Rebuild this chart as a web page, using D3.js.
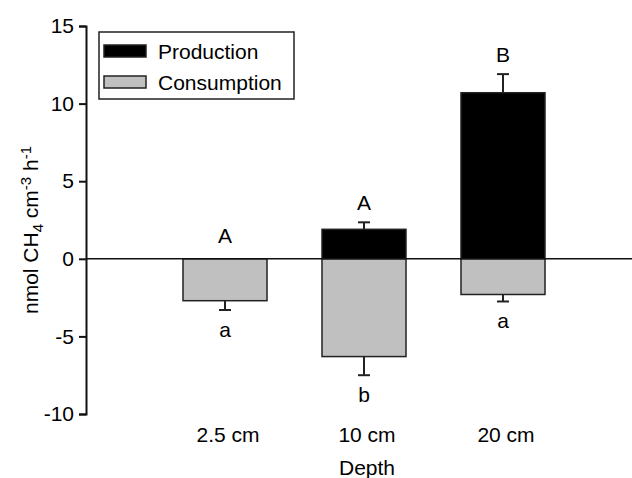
<!DOCTYPE html>
<html>
<head>
<meta charset="utf-8">
<script src="https://cdn.jsdelivr.net/npm/d3@7"></script>
<style>
  body { margin: 0; background: #fff; }
  text { font-family: "Liberation Sans", Arial, sans-serif; fill: #000; }
</style>
</head>
<body>
<div id="screen"></div>
<script>
var width = 632;
var height = 478;
var fs = "21px";

// data
var depths = ["2.5 cm", "10 cm", "20 cm"];
var production = [0, 1.9, 10.7];
var productionErr = [0, 0.45, 1.2];
var consumption = [-2.7, -6.3, -2.3];
var consumptionErr = [0.6, 1.2, 0.45];
var upperLetters = ["A", "A", "B"];
var lowerLetters = ["a", "b", "a"];
var yTicks = [15, 10, 5, 0, -5, -10];

var svg = d3.select("#screen").append("svg")
  .attr("width", width).attr("height", height);

var x = d3.scaleLinear().domain([0, depths.length + 1]).range([86, 642]);
var y = d3.scaleLinear().domain([-10, 15]).range([414, 26]);
var barW = 84;

// y axis (plain hyphen for minus, like the original)
var yAxis = d3.axisLeft(y).tickValues(yTicks).tickSize(7).tickPadding(5)
  .tickFormat(function(d){ return String(d); });
var gy = svg.append("g").attr("transform", "translate(86,0)").call(yAxis);
gy.select(".domain").attr("stroke", "#111").attr("stroke-width", 2);
gy.selectAll(".tick line").attr("stroke", "#111").attr("stroke-width", 2);
gy.selectAll(".tick text").style("font-size", fs)
  .style("font-family", "Liberation Sans, Arial, sans-serif").attr("fill", "#000");

// bars
var idx = d3.range(depths.length);
svg.selectAll("rect.prod").data(idx).enter().append("rect")
  .attr("class", "prod")
  .attr("x", function(i){ return x(i + 1) - barW / 2; })
  .attr("y", function(i){ return y(production[i]); })
  .attr("width", barW)
  .attr("height", function(i){ return y(0) - y(production[i]); })
  .attr("fill", "#000")
  .attr("stroke", "#222").attr("stroke-width", 1.5);

svg.selectAll("rect.cons").data(idx).enter().append("rect")
  .attr("class", "cons")
  .attr("x", function(i){ return x(i + 1) - barW / 2; })
  .attr("y", y(0))
  .attr("width", barW)
  .attr("height", function(i){ return y(consumption[i]) - y(0); })
  .attr("fill", "#c0c0c0")
  .attr("stroke", "#222").attr("stroke-width", 1.5);

// error bars
function errBar(cls, vals, errs, sign){
  var g = svg.selectAll("g." + cls).data(idx.filter(function(i){ return errs[i] > 0; }))
    .enter().append("g").attr("class", cls)
    .attr("stroke", "#222").attr("stroke-width", 2);
  g.append("line")
    .attr("x1", function(i){ return x(i + 1); })
    .attr("x2", function(i){ return x(i + 1); })
    .attr("y1", function(i){ return y(vals[i]); })
    .attr("y2", function(i){ return y(vals[i] + sign * errs[i]); });
  g.append("line")
    .attr("x1", function(i){ return x(i + 1) - 6; })
    .attr("x2", function(i){ return x(i + 1) + 6; })
    .attr("y1", function(i){ return y(vals[i] + sign * errs[i]); })
    .attr("y2", function(i){ return y(vals[i] + sign * errs[i]); });
}
errBar("perr", production, productionErr, 1);
errBar("cerr", consumption, consumptionErr, -1);

// zero line
svg.append("line")
  .attr("x1", 86).attr("x2", width)
  .attr("y1", y(0)).attr("y2", y(0))
  .attr("stroke", "#111").attr("stroke-width", 1.5);

// significance letters
svg.selectAll("text.up").data(idx).enter().append("text")
  .attr("class", "up")
  .attr("x", function(i){ return x(i + 1); })
  .attr("y", function(i){
    var top = production[i] + productionErr[i];
    return Math.min(y(top), y(0) - 4) - 12;
  })
  .attr("text-anchor", "middle").style("font-size", fs)
  .text(function(i){ return upperLetters[i]; });

svg.selectAll("text.low").data(idx).enter().append("text")
  .attr("class", "low")
  .attr("x", function(i){ return x(i + 1); })
  .attr("y", function(i){ return y(consumption[i] - consumptionErr[i]) + 27; })
  .attr("text-anchor", "middle").style("font-size", fs)
  .text(function(i){ return lowerLetters[i]; });

// x category labels
svg.selectAll("text.xl").data(idx).enter().append("text")
  .attr("class", "xl")
  .attr("x", function(i){ return x(i + 1) + 3; })
  .attr("y", 442)
  .attr("text-anchor", "middle").style("font-size", fs)
  .text(function(i){ return depths[i]; });

svg.append("text")
  .attr("x", 367).attr("y", 475)
  .attr("text-anchor", "middle").style("font-size", fs)
  .text("Depth");

// y axis title
var yt = svg.append("text")
  .attr("transform", "translate(38,230) rotate(-90)")
  .attr("text-anchor", "middle").style("font-size", fs);
yt.append("tspan").text("nmol CH");
yt.append("tspan").attr("baseline-shift", "-30%").style("font-size", "15px").text("4");
yt.append("tspan").text(" cm");
yt.append("tspan").attr("baseline-shift", "45%").style("font-size", "15px").text("-3");
yt.append("tspan").text(" h");
yt.append("tspan").attr("baseline-shift", "45%").style("font-size", "15px").text("-1");

// legend
var legendKeys = ["Production", "Consumption"];
var legendFill = ["#000", "#c0c0c0"];
var lg = svg.append("g");
lg.append("rect").attr("x", 99).attr("y", 32).attr("width", 195).attr("height", 67)
  .attr("fill", "#fff").attr("stroke", "#222").attr("stroke-width", 1.5);
var li = lg.selectAll("g.item").data(legendKeys).enter().append("g")
  .attr("class", "item")
  .attr("transform", function(d, i){ return "translate(104," + (45 + i * 31) + ")"; });
li.append("rect").attr("width", 42).attr("height", 12)
  .attr("fill", function(d, i){ return legendFill[i]; })
  .attr("stroke", "#222").attr("stroke-width", 1.5);
li.append("text").attr("x", 54).attr("y", 13.5).style("font-size", fs)
  .text(function(d){ return d; });
</script>
</body>
</html>
